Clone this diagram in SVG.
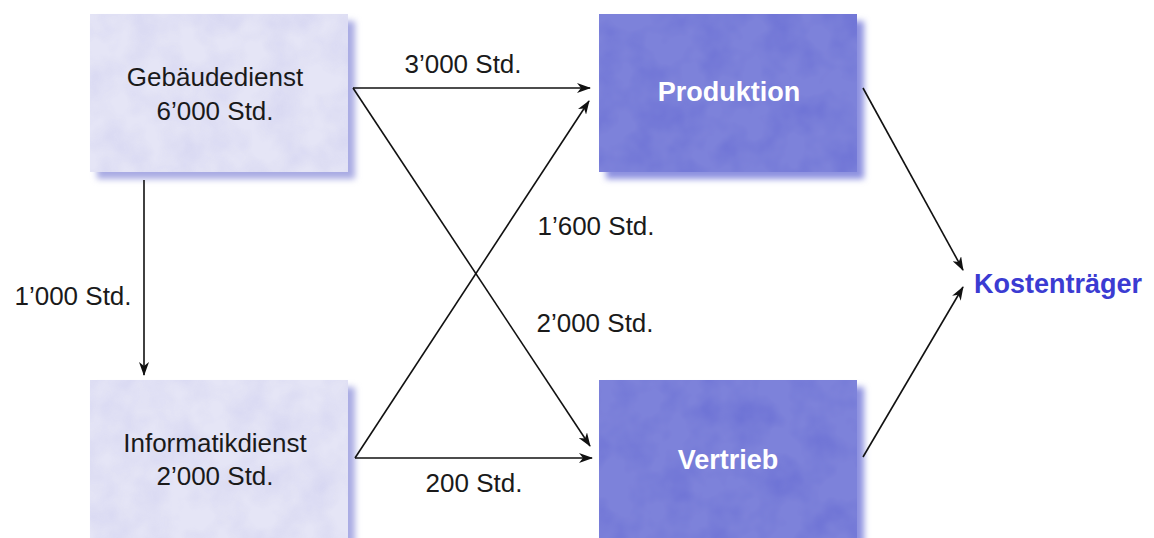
<svg xmlns="http://www.w3.org/2000/svg" width="1154" height="538" viewBox="0 0 1154 538">
  <style>
    .lbl { font-family: "Liberation Sans", Arial, sans-serif; font-size: 26px; fill: #1a1a1a; text-anchor: middle; }
    .dark-txt { font-family: "Liberation Sans", Arial, sans-serif; font-size: 27px; font-weight: bold; fill: #ffffff; text-anchor: middle; }
    .goal { font-family: "Liberation Sans", Arial, sans-serif; font-size: 27px; font-weight: bold; fill: #3b3bd2; text-anchor: middle; }
    .light { fill: #e5e5f6; }
    .dark { fill: #7d82da; }
    .conn { stroke: #111; stroke-width: 1.6; fill: none; marker-end: url(#arrow); }
  </style>
  <defs>
    <marker id="arrow" viewBox="0 0 14 10" refX="13" refY="5" markerWidth="14" markerHeight="10" markerUnits="userSpaceOnUse" orient="auto">
      <path d="M0,0 L14,5 L0,10 L4,5 z" fill="#111"/>
    </marker>
    <filter id="shadow" x="-10%" y="-10%" width="130%" height="130%">
      <feGaussianBlur stdDeviation="3"/>
    </filter>
    <!-- faint mottled paper texture for the pale boxes -->
    <filter id="marble-light" x="0" y="0" width="100%" height="100%" color-interpolation-filters="sRGB">
      <feTurbulence type="fractalNoise" baseFrequency="0.03" numOctaves="3" seed="4" result="n"/>
      <feColorMatrix in="n" type="matrix" values="0 0 0 0 0.75  0 0 0 0 0.75  0 0 0 0 0.92  0 0 0 -0.6 0.4" result="c"/>
      <feComposite in="c" in2="SourceGraphic" operator="in" result="t"/>
      <feMerge><feMergeNode in="SourceGraphic"/><feMergeNode in="t"/></feMerge>
    </filter>
    <!-- mottled texture for the saturated boxes -->
    <filter id="marble-dark" x="0" y="0" width="100%" height="100%" color-interpolation-filters="sRGB">
      <feTurbulence type="fractalNoise" baseFrequency="0.03" numOctaves="3" seed="7" result="n"/>
      <feColorMatrix in="n" type="matrix" values="0 0 0 0 0.38  0 0 0 0 0.4  0 0 0 0 0.82  0 0 0 -1.0 0.6" result="c"/>
      <feComposite in="c" in2="SourceGraphic" operator="in" result="t"/>
      <feMerge><feMergeNode in="SourceGraphic"/><feMergeNode in="t"/></feMerge>
    </filter>
  </defs>

  <rect width="1154" height="538" fill="#ffffff"/>

  <g id="gebaeudedienst">
    <rect x="97" y="21" width="258" height="158" fill="#a9abe3" filter="url(#shadow)"/>
    <rect class="light" x="90" y="14" width="258" height="158" filter="url(#marble-light)"/>
    <text class="lbl" x="215" y="86">Gebäudedienst</text>
    <text class="lbl" x="215" y="120">6’000 Std.</text>
  </g>

  <g id="informatikdienst">
    <rect x="97" y="387" width="258" height="170" fill="#a9abe3" filter="url(#shadow)"/>
    <rect class="light" x="90" y="380" width="258" height="170" filter="url(#marble-light)"/>
    <text class="lbl" x="215" y="452">Informatikdienst</text>
    <text class="lbl" x="215" y="485">2’000 Std.</text>
  </g>

  <g id="produktion">
    <rect x="606" y="21" width="258" height="158" fill="#8d91e0" filter="url(#shadow)"/>
    <rect class="dark" x="599" y="14" width="258" height="158" filter="url(#marble-dark)"/>
    <text class="dark-txt" x="729" y="101">Produktion</text>
  </g>

  <g id="vertrieb">
    <rect x="606" y="387" width="258" height="170" fill="#8d91e0" filter="url(#shadow)"/>
    <rect class="dark" x="599" y="380" width="258" height="170" filter="url(#marble-dark)"/>
    <text class="dark-txt" x="728" y="469">Vertrieb</text>
  </g>

  <g id="kostentraeger">
    <text class="goal" x="1058" y="293">Kostenträger</text>
  </g>

  <g id="connectors">
    <line class="conn" x1="144" y1="180" x2="144" y2="375"/>
    <line class="conn" x1="353" y1="88" x2="590" y2="88"/>
    <line class="conn" x1="353" y1="88" x2="590" y2="446"/>
    <line class="conn" x1="355" y1="458" x2="589" y2="101"/>
    <line class="conn" x1="355" y1="458" x2="592" y2="458"/>
    <line class="conn" x1="863" y1="88" x2="963" y2="270"/>
    <line class="conn" x1="863" y1="457" x2="963" y2="287"/>
  </g>

  <g id="labels">
    <text class="lbl" x="73" y="305">1’000 Std.</text>
    <text class="lbl" x="463" y="73">3’000 Std.</text>
    <text class="lbl" x="596" y="235">1’600 Std.</text>
    <text class="lbl" x="595" y="332">2’000 Std.</text>
    <text class="lbl" x="474" y="492">200 Std.</text>
  </g>
</svg>
